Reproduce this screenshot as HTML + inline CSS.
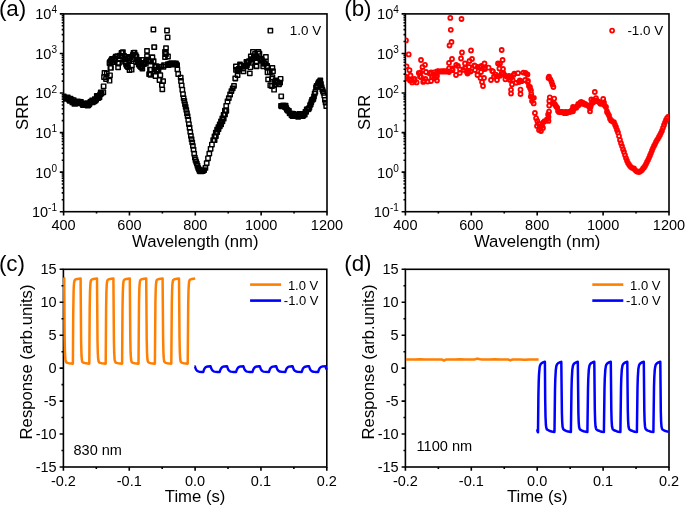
<!DOCTYPE html><html><head><meta charset="utf-8"><style>html,body{margin:0;padding:0;background:#fff;width:685px;height:505px;overflow:hidden}</style></head><body><svg width="685" height="505" viewBox="0 0 685 505" style="position:absolute;left:0;top:0;will-change:transform" font-family='"Liberation Sans", sans-serif' fill="#000"><rect width="685" height="505" fill="#fff"/><rect x="63.6" y="13.9" width="263.40" height="197.80" fill="none" stroke="#000" stroke-width="1.6" stroke-linecap="square"/><rect x="405.4" y="13.9" width="263.60" height="197.80" fill="none" stroke="#000" stroke-width="1.6" stroke-linecap="square"/><rect x="63.4" y="269.3" width="263.40" height="197.70" fill="none" stroke="#000" stroke-width="1.6" stroke-linecap="square"/><rect x="405.4" y="269.3" width="263.60" height="197.70" fill="none" stroke="#000" stroke-width="1.6" stroke-linecap="square"/><defs><clipPath id="c0"><rect x="63.6" y="13.9" width="263.40" height="197.80"/></clipPath><clipPath id="c1"><rect x="405.4" y="13.9" width="263.60" height="197.80"/></clipPath><clipPath id="c2"><rect x="63.4" y="269.3" width="263.40" height="197.70"/></clipPath><clipPath id="c3"><rect x="405.4" y="269.3" width="263.60" height="197.70"/></clipPath></defs><g clip-path="url(#c0)"><path d="M61.63 94.25h4.35v4.35h-4.35zM62.29 94.96h4.35v4.35h-4.35zM62.95 96.58h4.35v4.35h-4.35zM63.61 95.25h4.35v4.35h-4.35zM64.27 95.71h4.35v4.35h-4.35zM64.93 96.32h4.35v4.35h-4.35zM65.59 95.18h4.35v4.35h-4.35zM66.25 96.75h4.35v4.35h-4.35zM66.91 97.60h4.35v4.35h-4.35zM67.57 98.62h4.35v4.35h-4.35zM68.23 96.53h4.35v4.35h-4.35zM68.89 97.71h4.35v4.35h-4.35zM69.55 97.37h4.35v4.35h-4.35zM70.21 100.28h4.35v4.35h-4.35zM70.87 100.10h4.35v4.35h-4.35zM71.53 97.99h4.35v4.35h-4.35zM72.19 101.62h4.35v4.35h-4.35zM72.85 101.79h4.35v4.35h-4.35zM73.51 100.91h4.35v4.35h-4.35zM74.17 101.01h4.35v4.35h-4.35zM74.83 99.60h4.35v4.35h-4.35zM75.49 99.18h4.35v4.35h-4.35zM76.15 101.12h4.35v4.35h-4.35zM76.81 99.53h4.35v4.35h-4.35zM77.47 100.10h4.35v4.35h-4.35zM78.13 100.38h4.35v4.35h-4.35zM78.79 99.71h4.35v4.35h-4.35zM79.45 101.37h4.35v4.35h-4.35zM80.11 101.38h4.35v4.35h-4.35zM80.77 102.92h4.35v4.35h-4.35zM81.43 101.85h4.35v4.35h-4.35zM82.09 102.38h4.35v4.35h-4.35zM82.75 101.97h4.35v4.35h-4.35zM83.41 102.65h4.35v4.35h-4.35zM84.07 101.89h4.35v4.35h-4.35zM84.73 101.02h4.35v4.35h-4.35zM85.39 103.38h4.35v4.35h-4.35zM86.05 103.14h4.35v4.35h-4.35zM86.71 102.35h4.35v4.35h-4.35zM87.37 101.64h4.35v4.35h-4.35zM88.03 99.99h4.35v4.35h-4.35zM88.69 99.46h4.35v4.35h-4.35zM89.35 99.44h4.35v4.35h-4.35zM90.01 98.32h4.35v4.35h-4.35zM90.67 100.21h4.35v4.35h-4.35zM91.33 98.28h4.35v4.35h-4.35zM91.99 99.28h4.35v4.35h-4.35zM92.65 97.01h4.35v4.35h-4.35zM93.31 98.46h4.35v4.35h-4.35zM93.97 97.46h4.35v4.35h-4.35zM94.63 93.83h4.35v4.35h-4.35zM95.29 94.01h4.35v4.35h-4.35zM95.95 95.95h4.35v4.35h-4.35zM96.61 93.79h4.35v4.35h-4.35zM97.27 95.05h4.35v4.35h-4.35zM97.93 92.33h4.35v4.35h-4.35zM98.59 90.28h4.35v4.35h-4.35zM99.25 91.40h4.35v4.35h-4.35zM101.13 90.13h4.35v4.35h-4.35zM101.43 84.13h4.35v4.35h-4.35zM102.33 70.73h4.35v4.35h-4.35zM104.63 71.33h4.35v4.35h-4.35zM101.83 74.83h4.35v4.35h-4.35zM103.83 76.83h4.35v4.35h-4.35zM107.83 73.13h4.35v4.35h-4.35zM107.33 78.53h4.35v4.35h-4.35zM108.23 65.73h4.35v4.35h-4.35zM108.83 65.63h4.35v4.35h-4.35zM108.83 58.23h4.35v4.35h-4.35zM107.83 59.83h4.35v4.35h-4.35zM109.83 56.83h4.35v4.35h-4.35zM110.83 59.83h4.35v4.35h-4.35zM107.33 60.83h4.35v4.35h-4.35zM113.53 54.43h4.35v4.35h-4.35zM113.23 57.43h4.35v4.35h-4.35zM116.83 60.63h4.35v4.35h-4.35zM115.93 65.13h4.35v4.35h-4.35zM115.83 61.33h4.35v4.35h-4.35zM120.73 49.93h4.35v4.35h-4.35zM119.33 50.83h4.35v4.35h-4.35zM121.93 53.83h4.35v4.35h-4.35zM122.23 56.83h4.35v4.35h-4.35zM122.83 59.73h4.35v4.35h-4.35zM124.53 63.63h4.35v4.35h-4.35zM123.83 61.83h4.35v4.35h-4.35zM126.93 54.73h4.35v4.35h-4.35zM126.93 58.23h4.35v4.35h-4.35zM127.33 67.83h4.35v4.35h-4.35zM125.83 64.83h4.35v4.35h-4.35zM130.03 56.83h4.35v4.35h-4.35zM129.73 63.33h4.35v4.35h-4.35zM129.43 67.53h4.35v4.35h-4.35zM132.33 50.53h4.35v4.35h-4.35zM131.33 50.83h4.35v4.35h-4.35zM133.53 52.93h4.35v4.35h-4.35zM134.33 54.83h4.35v4.35h-4.35zM135.63 58.53h4.35v4.35h-4.35zM136.53 62.43h4.35v4.35h-4.35zM137.83 63.83h4.35v4.35h-4.35zM140.13 66.33h4.35v4.35h-4.35zM138.83 64.83h4.35v4.35h-4.35zM143.63 61.53h4.35v4.35h-4.35zM144.83 54.13h4.35v4.35h-4.35zM144.83 48.73h4.35v4.35h-4.35zM144.23 57.43h4.35v4.35h-4.35zM148.13 59.43h4.35v4.35h-4.35zM150.23 55.03h4.35v4.35h-4.35zM151.93 44.93h4.35v4.35h-4.35zM147.83 67.53h4.35v4.35h-4.35zM146.93 71.93h4.35v4.35h-4.35zM153.13 64.83h4.35v4.35h-4.35zM154.33 67.83h4.35v4.35h-4.35zM150.23 55.23h4.35v4.35h-4.35zM162.83 54.83h4.35v4.35h-4.35zM165.83 54.33h4.35v4.35h-4.35zM148.63 59.53h4.35v4.35h-4.35zM148.83 67.43h4.35v4.35h-4.35zM148.33 72.63h4.35v4.35h-4.35zM152.93 63.93h4.35v4.35h-4.35zM155.73 67.13h4.35v4.35h-4.35zM156.33 68.33h4.35v4.35h-4.35zM153.33 73.83h4.35v4.35h-4.35zM158.13 73.03h4.35v4.35h-4.35zM157.33 77.83h4.35v4.35h-4.35zM160.93 78.93h4.35v4.35h-4.35zM159.73 82.93h4.35v4.35h-4.35zM160.13 87.23h4.35v4.35h-4.35zM161.33 64.73h4.35v4.35h-4.35zM151.23 27.33h4.35v4.35h-4.35zM164.83 28.33h4.35v4.35h-4.35zM165.43 35.23h4.35v4.35h-4.35zM152.13 44.93h4.35v4.35h-4.35zM163.83 46.03h4.35v4.35h-4.35zM162.83 49.83h4.35v4.35h-4.35zM163.83 51.83h4.35v4.35h-4.35zM139.83 57.83h4.35v4.35h-4.35zM141.83 61.83h4.35v4.35h-4.35zM136.83 57.83h4.35v4.35h-4.35zM133.83 59.83h4.35v4.35h-4.35zM109.83 59.87h4.35v4.35h-4.35zM112.43 56.26h4.35v4.35h-4.35zM115.03 53.99h4.35v4.35h-4.35zM117.63 53.43h4.35v4.35h-4.35zM120.23 54.56h4.35v4.35h-4.35zM122.83 56.10h4.35v4.35h-4.35zM125.43 56.35h4.35v4.35h-4.35zM128.03 55.24h4.35v4.35h-4.35zM130.63 52.63h4.35v4.35h-4.35zM133.23 53.61h4.35v4.35h-4.35zM135.83 59.72h4.35v4.35h-4.35zM138.43 60.66h4.35v4.35h-4.35zM141.03 60.94h4.35v4.35h-4.35zM143.63 59.74h4.35v4.35h-4.35zM146.23 58.10h4.35v4.35h-4.35zM148.83 58.86h4.35v4.35h-4.35zM151.43 58.86h4.35v4.35h-4.35zM154.03 63.86h4.35v4.35h-4.35zM156.63 64.41h4.35v4.35h-4.35zM159.23 64.46h4.35v4.35h-4.35zM161.83 62.97h4.35v4.35h-4.35zM165.83 61.96h4.35v4.35h-4.35zM166.49 62.92h4.35v4.35h-4.35zM167.15 62.49h4.35v4.35h-4.35zM167.81 61.52h4.35v4.35h-4.35zM168.47 62.29h4.35v4.35h-4.35zM169.13 61.04h4.35v4.35h-4.35zM169.79 61.17h4.35v4.35h-4.35zM170.45 61.96h4.35v4.35h-4.35zM171.11 61.68h4.35v4.35h-4.35zM171.77 60.88h4.35v4.35h-4.35zM172.43 62.37h4.35v4.35h-4.35zM173.09 61.20h4.35v4.35h-4.35zM173.75 61.34h4.35v4.35h-4.35zM174.41 62.22h4.35v4.35h-4.35zM174.93 62.93h4.35v4.35h-4.35zM175.23 67.13h4.35v4.35h-4.35zM176.03 71.83h4.35v4.35h-4.35zM178.53 75.43h4.35v4.35h-4.35zM178.83 78.83h4.35v4.35h-4.35zM179.49 83.26h4.35v4.35h-4.35zM180.15 87.57h4.35v4.35h-4.35zM180.81 92.03h4.35v4.35h-4.35zM181.47 96.01h4.35v4.35h-4.35zM182.13 98.76h4.35v4.35h-4.35zM182.79 101.94h4.35v4.35h-4.35zM183.45 104.76h4.35v4.35h-4.35zM184.11 107.77h4.35v4.35h-4.35zM184.77 111.04h4.35v4.35h-4.35zM185.43 114.02h4.35v4.35h-4.35zM186.09 117.57h4.35v4.35h-4.35zM186.75 121.87h4.35v4.35h-4.35zM187.41 125.57h4.35v4.35h-4.35zM188.07 129.64h4.35v4.35h-4.35zM188.73 133.61h4.35v4.35h-4.35zM189.39 137.07h4.35v4.35h-4.35zM190.05 140.25h4.35v4.35h-4.35zM190.71 143.70h4.35v4.35h-4.35zM191.37 147.50h4.35v4.35h-4.35zM192.03 151.58h4.35v4.35h-4.35zM192.69 155.39h4.35v4.35h-4.35zM193.35 157.79h4.35v4.35h-4.35zM194.01 159.62h4.35v4.35h-4.35zM194.67 161.49h4.35v4.35h-4.35zM195.33 163.58h4.35v4.35h-4.35zM195.99 165.70h4.35v4.35h-4.35zM196.65 166.97h4.35v4.35h-4.35zM197.31 168.57h4.35v4.35h-4.35zM197.97 169.18h4.35v4.35h-4.35zM199.33 169.25h4.35v4.35h-4.35zM200.63 168.81h4.35v4.35h-4.35zM201.93 167.99h4.35v4.35h-4.35zM203.23 165.72h4.35v4.35h-4.35zM204.53 160.93h4.35v4.35h-4.35zM205.83 156.12h4.35v4.35h-4.35zM207.13 151.43h4.35v4.35h-4.35zM208.43 146.71h4.35v4.35h-4.35zM209.73 142.39h4.35v4.35h-4.35zM211.03 137.90h4.35v4.35h-4.35zM212.33 134.25h4.35v4.35h-4.35zM213.63 130.51h4.35v4.35h-4.35zM214.93 127.51h4.35v4.35h-4.35zM216.23 125.04h4.35v4.35h-4.35zM217.53 122.16h4.35v4.35h-4.35zM218.83 119.19h4.35v4.35h-4.35zM220.13 116.29h4.35v4.35h-4.35zM221.43 112.81h4.35v4.35h-4.35zM222.73 108.50h4.35v4.35h-4.35zM224.03 103.68h4.35v4.35h-4.35zM225.33 99.29h4.35v4.35h-4.35zM226.63 95.91h4.35v4.35h-4.35zM227.93 92.34h4.35v4.35h-4.35zM229.23 88.97h4.35v4.35h-4.35zM230.53 86.18h4.35v4.35h-4.35zM231.83 83.65h4.35v4.35h-4.35zM233.13 76.34h4.35v4.35h-4.35zM212.43 137.90h4.35v4.35h-4.35zM213.73 133.96h4.35v4.35h-4.35zM215.03 130.02h4.35v4.35h-4.35zM216.33 126.91h4.35v4.35h-4.35zM217.63 124.23h4.35v4.35h-4.35zM218.93 122.10h4.35v4.35h-4.35zM220.23 119.12h4.35v4.35h-4.35zM221.53 116.30h4.35v4.35h-4.35zM222.83 112.29h4.35v4.35h-4.35zM224.13 108.71h4.35v4.35h-4.35zM233.03 76.13h4.35v4.35h-4.35zM235.43 72.93h4.35v4.35h-4.35zM233.73 64.33h4.35v4.35h-4.35zM237.83 62.23h4.35v4.35h-4.35zM237.53 66.43h4.35v4.35h-4.35zM235.43 69.13h4.35v4.35h-4.35zM241.33 66.43h4.35v4.35h-4.35zM241.33 69.13h4.35v4.35h-4.35zM244.43 60.13h4.35v4.35h-4.35zM244.83 62.93h4.35v4.35h-4.35zM247.63 71.23h4.35v4.35h-4.35zM248.23 65.03h4.35v4.35h-4.35zM248.63 60.53h4.35v4.35h-4.35zM248.63 57.03h4.35v4.35h-4.35zM248.63 54.23h4.35v4.35h-4.35zM251.73 53.93h4.35v4.35h-4.35zM250.73 49.73h4.35v4.35h-4.35zM254.13 59.83h4.35v4.35h-4.35zM254.13 63.93h4.35v4.35h-4.35zM256.23 49.73h4.35v4.35h-4.35zM256.93 51.53h4.35v4.35h-4.35zM257.23 51.53h4.35v4.35h-4.35zM254.43 59.23h4.35v4.35h-4.35zM254.43 64.13h4.35v4.35h-4.35zM258.33 56.43h4.35v4.35h-4.35zM263.73 54.83h4.35v4.35h-4.35zM263.73 59.23h4.35v4.35h-4.35zM261.03 64.13h4.35v4.35h-4.35zM264.83 65.23h4.35v4.35h-4.35zM265.33 70.13h4.35v4.35h-4.35zM270.23 65.73h4.35v4.35h-4.35zM270.83 69.03h4.35v4.35h-4.35zM265.93 77.23h4.35v4.35h-4.35zM269.73 76.63h4.35v4.35h-4.35zM278.43 76.63h4.35v4.35h-4.35zM273.53 78.23h4.35v4.35h-4.35zM277.93 80.43h4.35v4.35h-4.35zM268.13 83.13h4.35v4.35h-4.35zM271.93 87.53h4.35v4.35h-4.35zM273.53 82.13h4.35v4.35h-4.35zM276.83 82.13h4.35v4.35h-4.35zM279.03 94.13h4.35v4.35h-4.35zM238.83 63.83h4.35v4.35h-4.35zM242.83 63.83h4.35v4.35h-4.35zM245.83 59.83h4.35v4.35h-4.35zM251.83 55.83h4.35v4.35h-4.35zM252.83 51.83h4.35v4.35h-4.35zM259.83 57.83h4.35v4.35h-4.35zM261.83 60.83h4.35v4.35h-4.35zM274.83 79.83h4.35v4.35h-4.35zM269.83 83.83h4.35v4.35h-4.35zM233.83 67.78h4.35v4.35h-4.35zM236.43 66.79h4.35v4.35h-4.35zM239.03 63.82h4.35v4.35h-4.35zM241.63 64.13h4.35v4.35h-4.35zM244.23 59.62h4.35v4.35h-4.35zM246.83 58.97h4.35v4.35h-4.35zM249.43 56.94h4.35v4.35h-4.35zM252.03 55.10h4.35v4.35h-4.35zM254.63 55.47h4.35v4.35h-4.35zM257.23 56.24h4.35v4.35h-4.35zM259.83 58.71h4.35v4.35h-4.35zM262.43 61.68h4.35v4.35h-4.35zM265.03 63.79h4.35v4.35h-4.35zM267.63 69.99h4.35v4.35h-4.35zM270.23 75.03h4.35v4.35h-4.35zM272.83 79.28h4.35v4.35h-4.35zM275.43 80.38h4.35v4.35h-4.35zM278.83 103.76h4.35v4.35h-4.35zM279.49 104.21h4.35v4.35h-4.35zM280.15 103.50h4.35v4.35h-4.35zM280.81 103.89h4.35v4.35h-4.35zM281.47 103.33h4.35v4.35h-4.35zM282.13 104.29h4.35v4.35h-4.35zM282.79 104.82h4.35v4.35h-4.35zM283.45 103.57h4.35v4.35h-4.35zM284.11 105.80h4.35v4.35h-4.35zM284.77 107.37h4.35v4.35h-4.35zM285.43 108.05h4.35v4.35h-4.35zM286.09 108.66h4.35v4.35h-4.35zM286.75 108.67h4.35v4.35h-4.35zM287.41 110.88h4.35v4.35h-4.35zM288.07 111.29h4.35v4.35h-4.35zM288.73 111.39h4.35v4.35h-4.35zM289.39 113.21h4.35v4.35h-4.35zM290.05 111.35h4.35v4.35h-4.35zM290.71 114.03h4.35v4.35h-4.35zM291.37 111.83h4.35v4.35h-4.35zM292.03 113.65h4.35v4.35h-4.35zM292.69 113.27h4.35v4.35h-4.35zM293.35 112.47h4.35v4.35h-4.35zM294.01 113.96h4.35v4.35h-4.35zM294.67 113.32h4.35v4.35h-4.35zM295.33 113.70h4.35v4.35h-4.35zM295.99 114.68h4.35v4.35h-4.35zM296.65 112.55h4.35v4.35h-4.35zM297.31 111.77h4.35v4.35h-4.35zM297.97 112.66h4.35v4.35h-4.35zM298.63 113.70h4.35v4.35h-4.35zM299.29 112.01h4.35v4.35h-4.35zM299.95 111.74h4.35v4.35h-4.35zM300.61 113.93h4.35v4.35h-4.35zM301.27 112.98h4.35v4.35h-4.35zM301.93 111.99h4.35v4.35h-4.35zM302.59 112.44h4.35v4.35h-4.35zM303.25 109.65h4.35v4.35h-4.35zM303.91 109.74h4.35v4.35h-4.35zM304.57 107.26h4.35v4.35h-4.35zM305.23 107.01h4.35v4.35h-4.35zM305.89 107.22h4.35v4.35h-4.35zM306.55 106.58h4.35v4.35h-4.35zM307.21 105.48h4.35v4.35h-4.35zM307.87 102.87h4.35v4.35h-4.35zM308.53 102.08h4.35v4.35h-4.35zM309.19 99.80h4.35v4.35h-4.35zM309.85 97.79h4.35v4.35h-4.35zM310.51 97.51h4.35v4.35h-4.35zM311.17 96.66h4.35v4.35h-4.35zM311.83 94.28h4.35v4.35h-4.35zM312.49 91.42h4.35v4.35h-4.35zM313.15 89.76h4.35v4.35h-4.35zM313.81 85.19h4.35v4.35h-4.35zM314.47 83.64h4.35v4.35h-4.35zM315.13 83.37h4.35v4.35h-4.35zM315.79 81.65h4.35v4.35h-4.35zM316.45 80.28h4.35v4.35h-4.35zM317.11 79.76h4.35v4.35h-4.35zM317.77 79.27h4.35v4.35h-4.35zM318.13 78.23h4.35v4.35h-4.35zM318.79 81.83h4.35v4.35h-4.35zM319.45 84.90h4.35v4.35h-4.35zM320.11 87.26h4.35v4.35h-4.35zM320.77 88.92h4.35v4.35h-4.35zM321.43 90.67h4.35v4.35h-4.35zM322.09 93.36h4.35v4.35h-4.35zM322.75 97.62h4.35v4.35h-4.35zM323.41 100.50h4.35v4.35h-4.35zM324.07 103.85h4.35v4.35h-4.35z" fill="none" stroke="#000" stroke-width="1.45" stroke-linejoin="round"/></g><g clip-path="url(#c1)"><path d="M403.6 76.7a2 2 0 1 0 4 0a2 2 0 1 0 -4 0M405.8 78.9a2 2 0 1 0 4 0a2 2 0 1 0 -4 0M408.0 80.5a2 2 0 1 0 4 0a2 2 0 1 0 -4 0M410.2 82.4a2 2 0 1 0 4 0a2 2 0 1 0 -4 0M412.4 80.8a2 2 0 1 0 4 0a2 2 0 1 0 -4 0M414.6 82.4a2 2 0 1 0 4 0a2 2 0 1 0 -4 0M416.8 73.0a2 2 0 1 0 4 0a2 2 0 1 0 -4 0M419.0 77.2a2 2 0 1 0 4 0a2 2 0 1 0 -4 0M421.2 81.9a2 2 0 1 0 4 0a2 2 0 1 0 -4 0M423.4 79.0a2 2 0 1 0 4 0a2 2 0 1 0 -4 0M425.6 81.5a2 2 0 1 0 4 0a2 2 0 1 0 -4 0M427.8 73.6a2 2 0 1 0 4 0a2 2 0 1 0 -4 0M430.0 77.0a2 2 0 1 0 4 0a2 2 0 1 0 -4 0M432.2 74.7a2 2 0 1 0 4 0a2 2 0 1 0 -4 0M434.4 77.5a2 2 0 1 0 4 0a2 2 0 1 0 -4 0M404.0 40.4a2 2 0 1 0 4 0a2 2 0 1 0 -4 0M406.7 54.4a2 2 0 1 0 4 0a2 2 0 1 0 -4 0M404.5 66.3a2 2 0 1 0 4 0a2 2 0 1 0 -4 0M407.5 70.2a2 2 0 1 0 4 0a2 2 0 1 0 -4 0M404.5 77.0a2 2 0 1 0 4 0a2 2 0 1 0 -4 0M419.0 60.0a2 2 0 1 0 4 0a2 2 0 1 0 -4 0M423.0 64.8a2 2 0 1 0 4 0a2 2 0 1 0 -4 0M420.5 67.0a2 2 0 1 0 4 0a2 2 0 1 0 -4 0M408.5 75.5a2 2 0 1 0 4 0a2 2 0 1 0 -4 0M409.5 80.0a2 2 0 1 0 4 0a2 2 0 1 0 -4 0M412.5 79.0a2 2 0 1 0 4 0a2 2 0 1 0 -4 0M418.5 72.5a2 2 0 1 0 4 0a2 2 0 1 0 -4 0M418.0 76.5a2 2 0 1 0 4 0a2 2 0 1 0 -4 0M422.0 81.0a2 2 0 1 0 4 0a2 2 0 1 0 -4 0M424.0 72.0a2 2 0 1 0 4 0a2 2 0 1 0 -4 0M429.0 72.5a2 2 0 1 0 4 0a2 2 0 1 0 -4 0M432.0 72.5a2 2 0 1 0 4 0a2 2 0 1 0 -4 0M429.0 81.0a2 2 0 1 0 4 0a2 2 0 1 0 -4 0M432.0 78.0a2 2 0 1 0 4 0a2 2 0 1 0 -4 0M435.0 76.0a2 2 0 1 0 4 0a2 2 0 1 0 -4 0M435.0 80.5a2 2 0 1 0 4 0a2 2 0 1 0 -4 0M435.0 71.4a2 2 0 1 0 4 0a2 2 0 1 0 -4 0M435.7 71.1a2 2 0 1 0 4 0a2 2 0 1 0 -4 0M436.3 71.2a2 2 0 1 0 4 0a2 2 0 1 0 -4 0M437.0 71.3a2 2 0 1 0 4 0a2 2 0 1 0 -4 0M437.6 71.6a2 2 0 1 0 4 0a2 2 0 1 0 -4 0M438.3 71.6a2 2 0 1 0 4 0a2 2 0 1 0 -4 0M439.0 71.2a2 2 0 1 0 4 0a2 2 0 1 0 -4 0M439.6 71.6a2 2 0 1 0 4 0a2 2 0 1 0 -4 0M440.3 71.2a2 2 0 1 0 4 0a2 2 0 1 0 -4 0M440.9 71.5a2 2 0 1 0 4 0a2 2 0 1 0 -4 0M441.6 71.2a2 2 0 1 0 4 0a2 2 0 1 0 -4 0M442.3 71.1a2 2 0 1 0 4 0a2 2 0 1 0 -4 0M442.9 71.6a2 2 0 1 0 4 0a2 2 0 1 0 -4 0M443.6 71.2a2 2 0 1 0 4 0a2 2 0 1 0 -4 0M444.2 71.2a2 2 0 1 0 4 0a2 2 0 1 0 -4 0M444.9 71.7a2 2 0 1 0 4 0a2 2 0 1 0 -4 0M445.6 71.6a2 2 0 1 0 4 0a2 2 0 1 0 -4 0M446.2 71.3a2 2 0 1 0 4 0a2 2 0 1 0 -4 0M446.9 71.7a2 2 0 1 0 4 0a2 2 0 1 0 -4 0M447.0 68.4a2 2 0 1 0 4 0a2 2 0 1 0 -4 0M450.6 70.0a2 2 0 1 0 4 0a2 2 0 1 0 -4 0M454.2 64.8a2 2 0 1 0 4 0a2 2 0 1 0 -4 0M457.8 72.9a2 2 0 1 0 4 0a2 2 0 1 0 -4 0M461.4 69.8a2 2 0 1 0 4 0a2 2 0 1 0 -4 0M465.0 72.4a2 2 0 1 0 4 0a2 2 0 1 0 -4 0M468.6 71.5a2 2 0 1 0 4 0a2 2 0 1 0 -4 0M472.2 65.6a2 2 0 1 0 4 0a2 2 0 1 0 -4 0M475.8 67.0a2 2 0 1 0 4 0a2 2 0 1 0 -4 0M479.4 65.9a2 2 0 1 0 4 0a2 2 0 1 0 -4 0M483.0 67.1a2 2 0 1 0 4 0a2 2 0 1 0 -4 0M486.6 67.7a2 2 0 1 0 4 0a2 2 0 1 0 -4 0M490.2 71.0a2 2 0 1 0 4 0a2 2 0 1 0 -4 0M493.8 74.7a2 2 0 1 0 4 0a2 2 0 1 0 -4 0M497.4 68.5a2 2 0 1 0 4 0a2 2 0 1 0 -4 0M448.3 17.9a2 2 0 1 0 4 0a2 2 0 1 0 -4 0M459.5 19.0a2 2 0 1 0 4 0a2 2 0 1 0 -4 0M448.8 29.8a2 2 0 1 0 4 0a2 2 0 1 0 -4 0M449.5 42.0a2 2 0 1 0 4 0a2 2 0 1 0 -4 0M447.5 45.5a2 2 0 1 0 4 0a2 2 0 1 0 -4 0M450.0 59.0a2 2 0 1 0 4 0a2 2 0 1 0 -4 0M447.0 63.0a2 2 0 1 0 4 0a2 2 0 1 0 -4 0M460.0 52.5a2 2 0 1 0 4 0a2 2 0 1 0 -4 0M469.0 50.5a2 2 0 1 0 4 0a2 2 0 1 0 -4 0M459.0 58.5a2 2 0 1 0 4 0a2 2 0 1 0 -4 0M470.0 59.0a2 2 0 1 0 4 0a2 2 0 1 0 -4 0M467.5 61.0a2 2 0 1 0 4 0a2 2 0 1 0 -4 0M463.0 63.5a2 2 0 1 0 4 0a2 2 0 1 0 -4 0M482.5 63.5a2 2 0 1 0 4 0a2 2 0 1 0 -4 0M456.0 66.0a2 2 0 1 0 4 0a2 2 0 1 0 -4 0M467.0 67.0a2 2 0 1 0 4 0a2 2 0 1 0 -4 0M472.5 65.5a2 2 0 1 0 4 0a2 2 0 1 0 -4 0M478.0 67.0a2 2 0 1 0 4 0a2 2 0 1 0 -4 0M450.5 68.5a2 2 0 1 0 4 0a2 2 0 1 0 -4 0M458.0 69.5a2 2 0 1 0 4 0a2 2 0 1 0 -4 0M463.0 68.0a2 2 0 1 0 4 0a2 2 0 1 0 -4 0M466.5 71.5a2 2 0 1 0 4 0a2 2 0 1 0 -4 0M473.0 70.0a2 2 0 1 0 4 0a2 2 0 1 0 -4 0M479.0 72.0a2 2 0 1 0 4 0a2 2 0 1 0 -4 0M483.0 69.0a2 2 0 1 0 4 0a2 2 0 1 0 -4 0M447.0 72.0a2 2 0 1 0 4 0a2 2 0 1 0 -4 0M454.0 75.0a2 2 0 1 0 4 0a2 2 0 1 0 -4 0M465.5 73.5a2 2 0 1 0 4 0a2 2 0 1 0 -4 0M475.5 75.0a2 2 0 1 0 4 0a2 2 0 1 0 -4 0M482.0 78.0a2 2 0 1 0 4 0a2 2 0 1 0 -4 0M480.0 82.0a2 2 0 1 0 4 0a2 2 0 1 0 -4 0M481.0 86.0a2 2 0 1 0 4 0a2 2 0 1 0 -4 0M491.0 71.5a2 2 0 1 0 4 0a2 2 0 1 0 -4 0M489.0 80.0a2 2 0 1 0 4 0a2 2 0 1 0 -4 0M492.0 76.5a2 2 0 1 0 4 0a2 2 0 1 0 -4 0M495.0 80.0a2 2 0 1 0 4 0a2 2 0 1 0 -4 0M496.0 63.5a2 2 0 1 0 4 0a2 2 0 1 0 -4 0M473.0 65.8a2 2 0 1 0 4 0a2 2 0 1 0 -4 0M478.5 78.0a2 2 0 1 0 4 0a2 2 0 1 0 -4 0M498.0 75.8a2 2 0 1 0 4 0a2 2 0 1 0 -4 0M499.8 73.1a2 2 0 1 0 4 0a2 2 0 1 0 -4 0M501.6 73.5a2 2 0 1 0 4 0a2 2 0 1 0 -4 0M503.4 79.3a2 2 0 1 0 4 0a2 2 0 1 0 -4 0M505.2 76.7a2 2 0 1 0 4 0a2 2 0 1 0 -4 0M507.0 75.8a2 2 0 1 0 4 0a2 2 0 1 0 -4 0M508.8 77.8a2 2 0 1 0 4 0a2 2 0 1 0 -4 0M510.6 80.0a2 2 0 1 0 4 0a2 2 0 1 0 -4 0M512.4 73.6a2 2 0 1 0 4 0a2 2 0 1 0 -4 0M514.2 82.8a2 2 0 1 0 4 0a2 2 0 1 0 -4 0M516.0 73.2a2 2 0 1 0 4 0a2 2 0 1 0 -4 0M517.8 80.5a2 2 0 1 0 4 0a2 2 0 1 0 -4 0M519.6 81.2a2 2 0 1 0 4 0a2 2 0 1 0 -4 0M521.4 72.6a2 2 0 1 0 4 0a2 2 0 1 0 -4 0M523.2 80.0a2 2 0 1 0 4 0a2 2 0 1 0 -4 0M499.7 50.0a2 2 0 1 0 4 0a2 2 0 1 0 -4 0M500.6 60.0a2 2 0 1 0 4 0a2 2 0 1 0 -4 0M498.0 63.5a2 2 0 1 0 4 0a2 2 0 1 0 -4 0M501.0 69.0a2 2 0 1 0 4 0a2 2 0 1 0 -4 0M496.0 76.0a2 2 0 1 0 4 0a2 2 0 1 0 -4 0M503.0 75.5a2 2 0 1 0 4 0a2 2 0 1 0 -4 0M508.0 80.0a2 2 0 1 0 4 0a2 2 0 1 0 -4 0M511.5 75.0a2 2 0 1 0 4 0a2 2 0 1 0 -4 0M510.0 84.5a2 2 0 1 0 4 0a2 2 0 1 0 -4 0M509.0 89.8a2 2 0 1 0 4 0a2 2 0 1 0 -4 0M509.0 93.5a2 2 0 1 0 4 0a2 2 0 1 0 -4 0M517.0 82.0a2 2 0 1 0 4 0a2 2 0 1 0 -4 0M518.5 89.7a2 2 0 1 0 4 0a2 2 0 1 0 -4 0M518.5 94.0a2 2 0 1 0 4 0a2 2 0 1 0 -4 0M523.5 73.0a2 2 0 1 0 4 0a2 2 0 1 0 -4 0M525.5 74.5a2 2 0 1 0 4 0a2 2 0 1 0 -4 0M526.0 81.0a2 2 0 1 0 4 0a2 2 0 1 0 -4 0M524.5 73.8a2 2 0 1 0 4 0a2 2 0 1 0 -4 0M525.7 82.1a2 2 0 1 0 4 0a2 2 0 1 0 -4 0M526.9 86.1a2 2 0 1 0 4 0a2 2 0 1 0 -4 0M528.1 88.3a2 2 0 1 0 4 0a2 2 0 1 0 -4 0M529.3 93.9a2 2 0 1 0 4 0a2 2 0 1 0 -4 0M530.5 98.4a2 2 0 1 0 4 0a2 2 0 1 0 -4 0M531.7 103.4a2 2 0 1 0 4 0a2 2 0 1 0 -4 0M532.9 113.0a2 2 0 1 0 4 0a2 2 0 1 0 -4 0M534.1 118.2a2 2 0 1 0 4 0a2 2 0 1 0 -4 0M535.3 120.9a2 2 0 1 0 4 0a2 2 0 1 0 -4 0M536.5 123.6a2 2 0 1 0 4 0a2 2 0 1 0 -4 0M537.7 127.2a2 2 0 1 0 4 0a2 2 0 1 0 -4 0M538.9 127.0a2 2 0 1 0 4 0a2 2 0 1 0 -4 0M540.1 125.6a2 2 0 1 0 4 0a2 2 0 1 0 -4 0M541.3 122.3a2 2 0 1 0 4 0a2 2 0 1 0 -4 0M542.5 121.2a2 2 0 1 0 4 0a2 2 0 1 0 -4 0M543.7 120.9a2 2 0 1 0 4 0a2 2 0 1 0 -4 0M544.9 119.3a2 2 0 1 0 4 0a2 2 0 1 0 -4 0M546.1 114.4a2 2 0 1 0 4 0a2 2 0 1 0 -4 0M547.3 101.0a2 2 0 1 0 4 0a2 2 0 1 0 -4 0M528.8 96.6a2 2 0 1 0 4 0a2 2 0 1 0 -4 0M531.9 97.8a2 2 0 1 0 4 0a2 2 0 1 0 -4 0M530.0 100.9a2 2 0 1 0 4 0a2 2 0 1 0 -4 0M528.0 87.0a2 2 0 1 0 4 0a2 2 0 1 0 -4 0M529.0 90.5a2 2 0 1 0 4 0a2 2 0 1 0 -4 0M546.5 78.0a2 2 0 1 0 4 0a2 2 0 1 0 -4 0M535.0 126.0a2 2 0 1 0 4 0a2 2 0 1 0 -4 0M537.0 130.0a2 2 0 1 0 4 0a2 2 0 1 0 -4 0M539.0 131.0a2 2 0 1 0 4 0a2 2 0 1 0 -4 0M541.0 128.0a2 2 0 1 0 4 0a2 2 0 1 0 -4 0M547.0 76.7a2 2 0 1 0 4 0a2 2 0 1 0 -4 0M548.3 79.3a2 2 0 1 0 4 0a2 2 0 1 0 -4 0M549.6 81.9a2 2 0 1 0 4 0a2 2 0 1 0 -4 0M550.4 84.4a2 2 0 1 0 4 0a2 2 0 1 0 -4 0M551.4 87.0a2 2 0 1 0 4 0a2 2 0 1 0 -4 0M552.2 98.6a2 2 0 1 0 4 0a2 2 0 1 0 -4 0M547.8 97.3a2 2 0 1 0 4 0a2 2 0 1 0 -4 0M547.2 105.6a2 2 0 1 0 4 0a2 2 0 1 0 -4 0M547.0 111.7a2 2 0 1 0 4 0a2 2 0 1 0 -4 0M546.5 117.0a2 2 0 1 0 4 0a2 2 0 1 0 -4 0M546.5 120.9a2 2 0 1 0 4 0a2 2 0 1 0 -4 0M552.0 103.4a2 2 0 1 0 4 0a2 2 0 1 0 -4 0M552.8 104.1a2 2 0 1 0 4 0a2 2 0 1 0 -4 0M553.6 105.4a2 2 0 1 0 4 0a2 2 0 1 0 -4 0M554.4 106.7a2 2 0 1 0 4 0a2 2 0 1 0 -4 0M555.2 107.6a2 2 0 1 0 4 0a2 2 0 1 0 -4 0M556.0 111.0a2 2 0 1 0 4 0a2 2 0 1 0 -4 0M556.8 112.1a2 2 0 1 0 4 0a2 2 0 1 0 -4 0M557.6 111.9a2 2 0 1 0 4 0a2 2 0 1 0 -4 0M558.4 112.0a2 2 0 1 0 4 0a2 2 0 1 0 -4 0M559.2 111.9a2 2 0 1 0 4 0a2 2 0 1 0 -4 0M560.0 111.9a2 2 0 1 0 4 0a2 2 0 1 0 -4 0M560.8 112.0a2 2 0 1 0 4 0a2 2 0 1 0 -4 0M561.6 112.8a2 2 0 1 0 4 0a2 2 0 1 0 -4 0M562.4 113.2a2 2 0 1 0 4 0a2 2 0 1 0 -4 0M563.2 112.0a2 2 0 1 0 4 0a2 2 0 1 0 -4 0M564.0 111.9a2 2 0 1 0 4 0a2 2 0 1 0 -4 0M564.8 113.1a2 2 0 1 0 4 0a2 2 0 1 0 -4 0M565.6 112.3a2 2 0 1 0 4 0a2 2 0 1 0 -4 0M566.4 112.1a2 2 0 1 0 4 0a2 2 0 1 0 -4 0M567.2 111.7a2 2 0 1 0 4 0a2 2 0 1 0 -4 0M568.0 112.1a2 2 0 1 0 4 0a2 2 0 1 0 -4 0M568.8 111.7a2 2 0 1 0 4 0a2 2 0 1 0 -4 0M569.6 110.3a2 2 0 1 0 4 0a2 2 0 1 0 -4 0M570.4 109.5a2 2 0 1 0 4 0a2 2 0 1 0 -4 0M571.2 108.3a2 2 0 1 0 4 0a2 2 0 1 0 -4 0M572.0 109.1a2 2 0 1 0 4 0a2 2 0 1 0 -4 0M572.8 107.4a2 2 0 1 0 4 0a2 2 0 1 0 -4 0M573.6 107.7a2 2 0 1 0 4 0a2 2 0 1 0 -4 0M574.4 107.7a2 2 0 1 0 4 0a2 2 0 1 0 -4 0M575.2 106.1a2 2 0 1 0 4 0a2 2 0 1 0 -4 0M576.0 105.8a2 2 0 1 0 4 0a2 2 0 1 0 -4 0M576.8 105.0a2 2 0 1 0 4 0a2 2 0 1 0 -4 0M577.6 103.4a2 2 0 1 0 4 0a2 2 0 1 0 -4 0M578.4 102.5a2 2 0 1 0 4 0a2 2 0 1 0 -4 0M579.2 101.9a2 2 0 1 0 4 0a2 2 0 1 0 -4 0M580.0 102.8a2 2 0 1 0 4 0a2 2 0 1 0 -4 0M580.8 102.7a2 2 0 1 0 4 0a2 2 0 1 0 -4 0M581.6 104.1a2 2 0 1 0 4 0a2 2 0 1 0 -4 0M582.4 103.6a2 2 0 1 0 4 0a2 2 0 1 0 -4 0M583.2 104.0a2 2 0 1 0 4 0a2 2 0 1 0 -4 0M584.0 104.9a2 2 0 1 0 4 0a2 2 0 1 0 -4 0M584.8 104.9a2 2 0 1 0 4 0a2 2 0 1 0 -4 0M585.6 105.3a2 2 0 1 0 4 0a2 2 0 1 0 -4 0M586.4 105.7a2 2 0 1 0 4 0a2 2 0 1 0 -4 0M587.2 106.9a2 2 0 1 0 4 0a2 2 0 1 0 -4 0M588.0 108.3a2 2 0 1 0 4 0a2 2 0 1 0 -4 0M588.8 106.1a2 2 0 1 0 4 0a2 2 0 1 0 -4 0M589.6 104.0a2 2 0 1 0 4 0a2 2 0 1 0 -4 0M590.4 102.3a2 2 0 1 0 4 0a2 2 0 1 0 -4 0M591.2 100.4a2 2 0 1 0 4 0a2 2 0 1 0 -4 0M592.0 100.5a2 2 0 1 0 4 0a2 2 0 1 0 -4 0M592.8 101.1a2 2 0 1 0 4 0a2 2 0 1 0 -4 0M593.6 100.8a2 2 0 1 0 4 0a2 2 0 1 0 -4 0M594.4 100.5a2 2 0 1 0 4 0a2 2 0 1 0 -4 0M595.2 101.0a2 2 0 1 0 4 0a2 2 0 1 0 -4 0M596.0 101.5a2 2 0 1 0 4 0a2 2 0 1 0 -4 0M596.8 101.9a2 2 0 1 0 4 0a2 2 0 1 0 -4 0M597.6 102.8a2 2 0 1 0 4 0a2 2 0 1 0 -4 0M598.4 103.8a2 2 0 1 0 4 0a2 2 0 1 0 -4 0M599.2 103.8a2 2 0 1 0 4 0a2 2 0 1 0 -4 0M600.0 103.0a2 2 0 1 0 4 0a2 2 0 1 0 -4 0M600.8 103.4a2 2 0 1 0 4 0a2 2 0 1 0 -4 0M601.6 104.2a2 2 0 1 0 4 0a2 2 0 1 0 -4 0M602.4 105.1a2 2 0 1 0 4 0a2 2 0 1 0 -4 0M603.2 106.1a2 2 0 1 0 4 0a2 2 0 1 0 -4 0M604.0 107.3a2 2 0 1 0 4 0a2 2 0 1 0 -4 0M553.0 104.7a2 2 0 1 0 4 0a2 2 0 1 0 -4 0M571.0 106.9a2 2 0 1 0 4 0a2 2 0 1 0 -4 0M571.0 111.3a2 2 0 1 0 4 0a2 2 0 1 0 -4 0M576.2 103.8a2 2 0 1 0 4 0a2 2 0 1 0 -4 0M588.5 106.9a2 2 0 1 0 4 0a2 2 0 1 0 -4 0M588.0 111.3a2 2 0 1 0 4 0a2 2 0 1 0 -4 0M589.3 99.4a2 2 0 1 0 4 0a2 2 0 1 0 -4 0M591.1 102.5a2 2 0 1 0 4 0a2 2 0 1 0 -4 0M592.8 92.0a2 2 0 1 0 4 0a2 2 0 1 0 -4 0M594.0 98.1a2 2 0 1 0 4 0a2 2 0 1 0 -4 0M601.2 99.0a2 2 0 1 0 4 0a2 2 0 1 0 -4 0M602.0 102.5a2 2 0 1 0 4 0a2 2 0 1 0 -4 0M605.0 111.3a2 2 0 1 0 4 0a2 2 0 1 0 -4 0M604.0 106.8a2 2 0 1 0 4 0a2 2 0 1 0 -4 0M605.0 112.1a2 2 0 1 0 4 0a2 2 0 1 0 -4 0M606.0 113.6a2 2 0 1 0 4 0a2 2 0 1 0 -4 0M607.0 115.5a2 2 0 1 0 4 0a2 2 0 1 0 -4 0M608.0 118.7a2 2 0 1 0 4 0a2 2 0 1 0 -4 0M609.0 120.4a2 2 0 1 0 4 0a2 2 0 1 0 -4 0M610.0 120.9a2 2 0 1 0 4 0a2 2 0 1 0 -4 0M611.0 121.8a2 2 0 1 0 4 0a2 2 0 1 0 -4 0M612.0 122.1a2 2 0 1 0 4 0a2 2 0 1 0 -4 0M613.0 124.7a2 2 0 1 0 4 0a2 2 0 1 0 -4 0M614.0 127.0a2 2 0 1 0 4 0a2 2 0 1 0 -4 0M615.0 130.0a2 2 0 1 0 4 0a2 2 0 1 0 -4 0M616.0 132.5a2 2 0 1 0 4 0a2 2 0 1 0 -4 0M617.0 136.1a2 2 0 1 0 4 0a2 2 0 1 0 -4 0M618.0 140.0a2 2 0 1 0 4 0a2 2 0 1 0 -4 0M619.0 143.2a2 2 0 1 0 4 0a2 2 0 1 0 -4 0M620.0 146.1a2 2 0 1 0 4 0a2 2 0 1 0 -4 0M621.0 149.2a2 2 0 1 0 4 0a2 2 0 1 0 -4 0M622.0 151.9a2 2 0 1 0 4 0a2 2 0 1 0 -4 0M623.0 155.1a2 2 0 1 0 4 0a2 2 0 1 0 -4 0M624.0 158.1a2 2 0 1 0 4 0a2 2 0 1 0 -4 0M625.0 160.7a2 2 0 1 0 4 0a2 2 0 1 0 -4 0M626.0 162.9a2 2 0 1 0 4 0a2 2 0 1 0 -4 0M627.0 164.5a2 2 0 1 0 4 0a2 2 0 1 0 -4 0M628.0 165.9a2 2 0 1 0 4 0a2 2 0 1 0 -4 0M629.0 167.1a2 2 0 1 0 4 0a2 2 0 1 0 -4 0M630.0 167.8a2 2 0 1 0 4 0a2 2 0 1 0 -4 0M631.0 168.3a2 2 0 1 0 4 0a2 2 0 1 0 -4 0M632.0 168.5a2 2 0 1 0 4 0a2 2 0 1 0 -4 0M633.0 169.8a2 2 0 1 0 4 0a2 2 0 1 0 -4 0M634.0 170.8a2 2 0 1 0 4 0a2 2 0 1 0 -4 0M635.0 171.5a2 2 0 1 0 4 0a2 2 0 1 0 -4 0M636.0 171.9a2 2 0 1 0 4 0a2 2 0 1 0 -4 0M637.0 172.0a2 2 0 1 0 4 0a2 2 0 1 0 -4 0M638.0 171.4a2 2 0 1 0 4 0a2 2 0 1 0 -4 0M639.0 170.8a2 2 0 1 0 4 0a2 2 0 1 0 -4 0M640.0 170.1a2 2 0 1 0 4 0a2 2 0 1 0 -4 0M641.0 168.5a2 2 0 1 0 4 0a2 2 0 1 0 -4 0M642.0 167.5a2 2 0 1 0 4 0a2 2 0 1 0 -4 0M643.0 166.0a2 2 0 1 0 4 0a2 2 0 1 0 -4 0M644.0 164.1a2 2 0 1 0 4 0a2 2 0 1 0 -4 0M645.0 162.0a2 2 0 1 0 4 0a2 2 0 1 0 -4 0M646.0 160.1a2 2 0 1 0 4 0a2 2 0 1 0 -4 0M647.0 157.8a2 2 0 1 0 4 0a2 2 0 1 0 -4 0M648.0 155.4a2 2 0 1 0 4 0a2 2 0 1 0 -4 0M649.0 153.1a2 2 0 1 0 4 0a2 2 0 1 0 -4 0M650.0 150.4a2 2 0 1 0 4 0a2 2 0 1 0 -4 0M651.0 148.1a2 2 0 1 0 4 0a2 2 0 1 0 -4 0M652.0 146.0a2 2 0 1 0 4 0a2 2 0 1 0 -4 0M653.0 144.1a2 2 0 1 0 4 0a2 2 0 1 0 -4 0M654.0 141.8a2 2 0 1 0 4 0a2 2 0 1 0 -4 0M655.0 140.1a2 2 0 1 0 4 0a2 2 0 1 0 -4 0M656.0 138.6a2 2 0 1 0 4 0a2 2 0 1 0 -4 0M657.0 136.7a2 2 0 1 0 4 0a2 2 0 1 0 -4 0M658.0 135.0a2 2 0 1 0 4 0a2 2 0 1 0 -4 0M659.0 132.8a2 2 0 1 0 4 0a2 2 0 1 0 -4 0M660.0 130.7a2 2 0 1 0 4 0a2 2 0 1 0 -4 0M661.0 127.8a2 2 0 1 0 4 0a2 2 0 1 0 -4 0M662.0 124.9a2 2 0 1 0 4 0a2 2 0 1 0 -4 0M663.0 122.3a2 2 0 1 0 4 0a2 2 0 1 0 -4 0M664.0 119.8a2 2 0 1 0 4 0a2 2 0 1 0 -4 0M665.0 118.2a2 2 0 1 0 4 0a2 2 0 1 0 -4 0M666.0 117.0a2 2 0 1 0 4 0a2 2 0 1 0 -4 0" fill="none" stroke="#ff0000" stroke-width="1.78"/></g><path d="M63.60 277.40 L63.90 277.79 L64.20 277.96 L64.60 335.05 L64.90 350.54 L65.10 355.56 L65.40 359.38 L65.80 361.41 L66.10 362.03 L66.60 362.50 L67.50 362.86 L69.00 363.22 L72.90 363.71 L73.20 315.72 L73.60 291.49 L73.80 286.50 L74.10 282.70 L74.50 280.68 L74.80 280.06 L75.20 279.66 L75.90 279.33 L77.20 278.98 L80.60 278.47 L81.10 341.27 L81.50 355.42 L81.80 359.33 L82.20 361.39 L82.70 362.27 L83.70 362.80 L86.10 363.35 L89.30 363.71 L89.70 307.68 L90.00 291.83 L90.40 283.74 L90.80 281.05 L91.10 280.24 L91.50 279.74 L92.20 279.37 L93.40 279.02 L97.00 278.48 L97.50 340.67 L97.80 352.96 L98.20 359.24 L98.60 361.36 L98.90 362.01 L99.40 362.49 L100.30 362.86 L101.80 363.22 L105.70 363.71 L106.10 308.47 L106.40 292.17 L106.80 283.86 L107.20 281.08 L107.50 280.26 L107.90 279.75 L108.60 279.37 L109.80 279.03 L113.40 278.48 L113.90 340.06 L114.20 352.69 L114.60 359.15 L115.00 361.33 L115.30 362.00 L115.80 362.49 L116.70 362.86 L118.20 363.22 L122.10 363.71 L122.50 309.29 L122.80 292.52 L123.20 283.97 L123.60 281.12 L123.90 280.28 L124.30 279.76 L125.00 279.38 L126.20 279.03 L129.80 278.48 L130.30 339.43 L130.60 352.42 L131.00 359.06 L131.40 361.30 L131.70 361.98 L132.20 362.48 L133.10 362.86 L134.60 363.22 L138.50 363.71 L139.00 302.70 L139.30 289.69 L139.60 284.09 L140.00 281.16 L140.30 280.30 L140.70 279.77 L141.40 279.38 L142.60 279.03 L146.20 278.48 L146.70 338.77 L147.00 352.14 L147.40 358.97 L147.80 361.27 L148.10 361.96 L148.60 362.47 L149.50 362.85 L151.00 363.22 L154.90 363.70 L155.40 303.35 L155.70 289.97 L156.00 284.21 L156.40 281.21 L156.70 280.32 L157.10 279.78 L157.80 279.38 L159.00 279.03 L162.60 278.48 L163.10 338.10 L163.40 351.85 L163.80 358.88 L164.20 361.24 L164.50 361.95 L165.00 362.47 L165.90 362.85 L167.40 363.22 L171.30 363.70 L171.80 304.02 L172.10 290.26 L172.40 284.33 L172.80 281.25 L173.10 280.34 L173.50 279.79 L174.20 279.39 L175.40 279.04 L179.00 278.48 L179.50 337.41 L179.80 351.56 L180.20 358.78 L180.60 361.20 L180.90 361.93 L181.40 362.46 L182.30 362.85 L183.80 363.21 L187.70 363.70 L188.20 304.71 L188.50 290.55 L188.90 283.33 L189.30 280.90 L189.60 280.17 L190.00 279.71 L190.70 279.35 L191.90 279.02 L195.20 278.50" fill="none" stroke="#ff7f00" stroke-width="2.5" stroke-linejoin="round"/>
<path d="M194.60 366.60 L195.00 366.50 L195.50 368.15 L196.00 369.31 L196.60 370.25 L197.40 371.01 L198.20 371.44 L199.10 371.71 L202.10 371.97 L203.30 371.99 L203.80 370.25 L204.40 368.84 L205.00 367.92 L205.80 367.17 L206.60 366.75 L207.60 366.47 L210.60 366.23 L211.10 367.96 L211.60 369.18 L212.20 370.16 L212.80 370.80 L213.60 371.32 L214.50 371.64 L217.50 371.96 L219.70 371.99 L220.30 370.00 L220.90 368.68 L221.60 367.70 L222.40 367.05 L223.20 366.68 L224.10 366.45 L227.00 366.23 L228.00 369.16 L228.60 370.15 L229.20 370.79 L230.00 371.32 L230.90 371.64 L233.70 371.95 L236.10 371.99 L236.70 370.03 L237.30 368.69 L238.00 367.71 L238.80 367.05 L239.60 366.68 L240.50 366.45 L243.40 366.23 L244.40 369.14 L245.00 370.13 L245.60 370.78 L246.30 371.26 L247.20 371.61 L249.80 371.94 L252.50 371.99 L253.10 370.05 L253.70 368.71 L254.40 367.72 L255.30 367.00 L256.90 366.46 L259.50 366.24 L259.80 366.23 L260.80 369.12 L261.40 370.12 L262.00 370.78 L262.70 371.26 L263.50 371.58 L265.90 371.92 L268.90 371.99 L269.90 369.12 L270.50 368.10 L271.10 367.44 L271.90 366.90 L272.80 366.57 L275.60 366.25 L276.20 366.23 L277.20 369.09 L277.80 370.11 L278.40 370.77 L279.00 371.20 L279.80 371.55 L282.00 371.91 L285.30 371.99 L286.30 369.14 L286.90 368.11 L287.50 367.45 L288.20 366.96 L289.10 366.60 L291.60 366.27 L292.60 366.23 L293.60 369.07 L294.20 370.09 L294.80 370.76 L296.10 371.51 L297.90 371.86 L301.70 371.99 L302.70 369.16 L303.20 368.27 L303.80 367.55 L304.40 367.08 L305.20 366.70 L307.40 366.30 L309.00 366.23 L309.90 368.83 L310.80 370.34 L311.90 371.24 L313.50 371.76 L315.20 371.93 L318.10 371.99 L319.00 369.40 L319.90 367.88 L321.10 366.91 L322.80 366.41 L325.40 366.23 L326.20 368.58 L326.80 369.77" fill="none" stroke="#0000ff" stroke-width="2.4" stroke-linejoin="round"/>
<path d="M405.90 359.50 L414.90 359.48 L419.90 359.20 L425.40 359.49 L441.40 359.51 L442.40 359.69 L443.90 360.59 L444.40 360.48 L445.40 359.78 L446.40 359.52 L454.90 359.48 L459.90 359.20 L464.90 359.48 L473.40 359.49 L474.90 359.39 L476.90 358.82 L477.90 358.71 L480.40 359.37 L481.90 359.49 L489.90 359.48 L494.90 359.20 L499.90 359.48 L507.90 359.51 L508.90 359.69 L510.40 360.40 L511.90 359.69 L512.90 359.51 L519.90 359.51 L524.90 359.70 L529.90 359.51 L538.40 359.50 L538.60 359.50" fill="none" stroke="#ff7f00" stroke-width="2.5" stroke-linejoin="round"/>
<path d="M537.20 429.40 L537.50 431.23 L537.80 432.02 L538.00 432.17 L538.40 395.76 L538.70 382.14 L539.00 374.50 L539.60 367.60 L540.00 365.71 L540.60 364.31 L541.30 363.49 L542.20 362.85 L543.50 362.23 L544.90 361.82 L545.20 400.11 L545.50 416.50 L545.90 424.94 L546.20 427.36 L546.60 428.75 L546.90 429.25 L547.40 429.73 L549.20 430.70 L551.60 431.50 L554.40 432.06 L554.50 430.76 L555.00 389.79 L555.30 378.80 L555.80 370.02 L556.30 366.45 L556.70 365.09 L557.10 364.29 L557.80 363.47 L558.70 362.84 L559.90 362.27 L561.30 361.82 L561.90 412.94 L562.20 422.05 L562.60 426.82 L563.10 428.77 L563.50 429.38 L564.20 429.95 L565.50 430.62 L567.10 431.21 L570.90 432.06 L571.50 389.31 L571.80 378.53 L572.30 369.91 L572.90 365.99 L573.30 364.83 L573.70 364.13 L574.40 363.38 L575.30 362.78 L576.50 362.22 L577.80 361.81 L578.40 413.38 L578.70 422.24 L579.10 426.88 L579.60 428.79 L580.00 429.39 L580.70 429.95 L582.00 430.62 L583.60 431.22 L587.40 432.06 L588.00 388.84 L588.30 378.26 L588.80 369.81 L589.40 365.95 L589.80 364.80 L590.20 364.11 L590.90 363.37 L591.80 362.77 L593.00 362.22 L594.30 361.81 L594.80 408.92 L595.10 420.30 L595.50 426.22 L596.00 428.59 L596.40 429.29 L597.00 429.83 L598.30 430.53 L600.00 431.19 L601.80 431.68 L603.90 432.06 L604.50 388.38 L604.80 378.01 L605.30 369.71 L605.90 365.92 L606.30 364.78 L606.70 364.10 L607.40 363.36 L608.30 362.76 L609.50 362.22 L610.80 361.81 L611.30 409.47 L611.60 420.54 L612.00 426.30 L612.50 428.61 L612.90 429.30 L613.50 429.83 L614.80 430.54 L616.50 431.19 L618.30 431.68 L620.40 432.06 L621.00 387.93 L621.30 377.75 L621.80 369.61 L622.40 365.88 L622.80 364.76 L623.20 364.08 L623.90 363.36 L624.80 362.76 L626.00 362.21 L627.30 361.80 L627.80 410.01 L628.10 420.78 L628.50 426.38 L629.00 428.64 L629.40 429.31 L630.00 429.84 L631.30 430.54 L633.00 431.19 L634.80 431.68 L636.90 432.06 L637.50 387.49 L637.80 377.51 L638.30 369.51 L638.90 365.84 L639.30 364.74 L639.70 364.07 L640.40 363.35 L641.30 362.75 L642.50 362.21 L643.80 361.80 L644.30 410.53 L644.60 421.00 L645.00 426.46 L645.50 428.66 L645.90 429.32 L646.50 429.85 L647.80 430.55 L649.50 431.20 L651.30 431.68 L653.40 432.07 L654.00 387.05 L654.30 377.26 L654.80 369.41 L655.40 365.81 L655.80 364.72 L656.20 364.06 L656.90 363.34 L657.80 362.75 L659.00 362.21 L660.30 361.80 L660.80 411.04 L661.10 421.22 L661.50 426.53 L662.00 428.68 L662.40 429.34 L662.90 429.78 L664.00 430.41 L665.40 431.00 L668.70 431.87" fill="none" stroke="#0000ff" stroke-width="2.5" stroke-linejoin="round"/><path d="M63.60 211.70v3.8M129.45 211.70v3.8M195.30 211.70v3.8M261.15 211.70v3.8M327.00 211.70v3.8M96.53 211.70v1.9M162.38 211.70v1.9M228.22 211.70v1.9M294.07 211.70v1.9" stroke="#000" stroke-width="1.6" fill="none"/><text x="63.60" y="230.0" text-anchor="middle" font-size="14.5">400</text><text x="129.45" y="230.0" text-anchor="middle" font-size="14.5">600</text><text x="195.30" y="230.0" text-anchor="middle" font-size="14.5">800</text><text x="261.15" y="230.0" text-anchor="middle" font-size="14.5">1000</text><text x="327.00" y="230.0" text-anchor="middle" font-size="14.5">1200</text><path d="M63.60 211.70h-3.8M63.60 199.79h-1.9M63.60 192.83h-1.9M63.60 187.88h-1.9M63.60 184.05h-1.9M63.60 180.92h-1.9M63.60 178.27h-1.9M63.60 175.97h-1.9M63.60 173.95h-1.9M63.60 172.14h-3.8M63.60 160.23h-1.9M63.60 153.27h-1.9M63.60 148.32h-1.9M63.60 144.49h-1.9M63.60 141.36h-1.9M63.60 138.71h-1.9M63.60 136.41h-1.9M63.60 134.39h-1.9M63.60 132.58h-3.8M63.60 120.67h-1.9M63.60 113.71h-1.9M63.60 108.76h-1.9M63.60 104.93h-1.9M63.60 101.80h-1.9M63.60 99.15h-1.9M63.60 96.85h-1.9M63.60 94.83h-1.9M63.60 93.02h-3.8M63.60 81.11h-1.9M63.60 74.15h-1.9M63.60 69.20h-1.9M63.60 65.37h-1.9M63.60 62.24h-1.9M63.60 59.59h-1.9M63.60 57.29h-1.9M63.60 55.27h-1.9M63.60 53.46h-3.8M63.60 41.55h-1.9M63.60 34.59h-1.9M63.60 29.64h-1.9M63.60 25.81h-1.9M63.60 22.68h-1.9M63.60 20.03h-1.9M63.60 17.73h-1.9M63.60 15.71h-1.9M63.60 13.90h-3.8" stroke="#000" stroke-width="1.6" fill="none"/><text x="57.00" y="217.10" text-anchor="end" font-size="14.5">10<tspan font-size="10" dy="-5.8">-1</tspan></text><text x="57.00" y="177.54" text-anchor="end" font-size="14.5">10<tspan font-size="10" dy="-5.8">0</tspan></text><text x="57.00" y="137.98" text-anchor="end" font-size="14.5">10<tspan font-size="10" dy="-5.8">1</tspan></text><text x="57.00" y="98.42" text-anchor="end" font-size="14.5">10<tspan font-size="10" dy="-5.8">2</tspan></text><text x="57.00" y="58.86" text-anchor="end" font-size="14.5">10<tspan font-size="10" dy="-5.8">3</tspan></text><text x="57.00" y="19.30" text-anchor="end" font-size="14.5">10<tspan font-size="10" dy="-5.8">4</tspan></text><path d="M405.40 211.70v3.8M471.30 211.70v3.8M537.20 211.70v3.8M603.10 211.70v3.8M669.00 211.70v3.8M438.35 211.70v1.9M504.25 211.70v1.9M570.15 211.70v1.9M636.05 211.70v1.9" stroke="#000" stroke-width="1.6" fill="none"/><text x="405.40" y="230.0" text-anchor="middle" font-size="14.5">400</text><text x="471.30" y="230.0" text-anchor="middle" font-size="14.5">600</text><text x="537.20" y="230.0" text-anchor="middle" font-size="14.5">800</text><text x="603.10" y="230.0" text-anchor="middle" font-size="14.5">1000</text><text x="669.00" y="230.0" text-anchor="middle" font-size="14.5">1200</text><path d="M405.40 211.70h-3.8M405.40 199.79h-1.9M405.40 192.83h-1.9M405.40 187.88h-1.9M405.40 184.05h-1.9M405.40 180.92h-1.9M405.40 178.27h-1.9M405.40 175.97h-1.9M405.40 173.95h-1.9M405.40 172.14h-3.8M405.40 160.23h-1.9M405.40 153.27h-1.9M405.40 148.32h-1.9M405.40 144.49h-1.9M405.40 141.36h-1.9M405.40 138.71h-1.9M405.40 136.41h-1.9M405.40 134.39h-1.9M405.40 132.58h-3.8M405.40 120.67h-1.9M405.40 113.71h-1.9M405.40 108.76h-1.9M405.40 104.93h-1.9M405.40 101.80h-1.9M405.40 99.15h-1.9M405.40 96.85h-1.9M405.40 94.83h-1.9M405.40 93.02h-3.8M405.40 81.11h-1.9M405.40 74.15h-1.9M405.40 69.20h-1.9M405.40 65.37h-1.9M405.40 62.24h-1.9M405.40 59.59h-1.9M405.40 57.29h-1.9M405.40 55.27h-1.9M405.40 53.46h-3.8M405.40 41.55h-1.9M405.40 34.59h-1.9M405.40 29.64h-1.9M405.40 25.81h-1.9M405.40 22.68h-1.9M405.40 20.03h-1.9M405.40 17.73h-1.9M405.40 15.71h-1.9M405.40 13.90h-3.8" stroke="#000" stroke-width="1.6" fill="none"/><text x="398.80" y="217.10" text-anchor="end" font-size="14.5">10<tspan font-size="10" dy="-5.8">-1</tspan></text><text x="398.80" y="177.54" text-anchor="end" font-size="14.5">10<tspan font-size="10" dy="-5.8">0</tspan></text><text x="398.80" y="137.98" text-anchor="end" font-size="14.5">10<tspan font-size="10" dy="-5.8">1</tspan></text><text x="398.80" y="98.42" text-anchor="end" font-size="14.5">10<tspan font-size="10" dy="-5.8">2</tspan></text><text x="398.80" y="58.86" text-anchor="end" font-size="14.5">10<tspan font-size="10" dy="-5.8">3</tspan></text><text x="398.80" y="19.30" text-anchor="end" font-size="14.5">10<tspan font-size="10" dy="-5.8">4</tspan></text><path d="M63.40 467.00v3.8M129.25 467.00v3.8M195.10 467.00v3.8M260.95 467.00v3.8M326.80 467.00v3.8M96.33 467.00v1.9M162.18 467.00v1.9M228.03 467.00v1.9M293.88 467.00v1.9" stroke="#000" stroke-width="1.6" fill="none"/><text x="63.40" y="485.6" text-anchor="middle" font-size="14.5">-0.2</text><text x="129.25" y="485.6" text-anchor="middle" font-size="14.5">-0.1</text><text x="195.10" y="485.6" text-anchor="middle" font-size="14.5">0.0</text><text x="260.95" y="485.6" text-anchor="middle" font-size="14.5">0.1</text><text x="326.80" y="485.6" text-anchor="middle" font-size="14.5">0.2</text><path d="M63.40 467.00h-3.8M63.40 434.05h-3.8M63.40 401.10h-3.8M63.40 368.15h-3.8M63.40 335.20h-3.8M63.40 302.25h-3.8M63.40 269.30h-3.8M63.40 450.52h-1.9M63.40 417.57h-1.9M63.40 384.62h-1.9M63.40 351.68h-1.9M63.40 318.73h-1.9M63.40 285.77h-1.9" stroke="#000" stroke-width="1.6" fill="none"/><text x="56.60" y="471.70" text-anchor="end" font-size="14.5">-15</text><text x="56.60" y="438.75" text-anchor="end" font-size="14.5">-10</text><text x="56.60" y="405.80" text-anchor="end" font-size="14.5">-5</text><text x="56.60" y="372.85" text-anchor="end" font-size="14.5">0</text><text x="56.60" y="339.90" text-anchor="end" font-size="14.5">5</text><text x="56.60" y="306.95" text-anchor="end" font-size="14.5">10</text><text x="56.60" y="274.00" text-anchor="end" font-size="14.5">15</text><path d="M405.40 467.00v3.8M471.30 467.00v3.8M537.20 467.00v3.8M603.10 467.00v3.8M669.00 467.00v3.8M438.35 467.00v1.9M504.25 467.00v1.9M570.15 467.00v1.9M636.05 467.00v1.9" stroke="#000" stroke-width="1.6" fill="none"/><text x="405.40" y="485.6" text-anchor="middle" font-size="14.5">-0.2</text><text x="471.30" y="485.6" text-anchor="middle" font-size="14.5">-0.1</text><text x="537.20" y="485.6" text-anchor="middle" font-size="14.5">0.0</text><text x="603.10" y="485.6" text-anchor="middle" font-size="14.5">0.1</text><text x="669.00" y="485.6" text-anchor="middle" font-size="14.5">0.2</text><path d="M405.40 467.00h-3.8M405.40 434.05h-3.8M405.40 401.10h-3.8M405.40 368.15h-3.8M405.40 335.20h-3.8M405.40 302.25h-3.8M405.40 269.30h-3.8M405.40 450.52h-1.9M405.40 417.57h-1.9M405.40 384.62h-1.9M405.40 351.68h-1.9M405.40 318.73h-1.9M405.40 285.77h-1.9" stroke="#000" stroke-width="1.6" fill="none"/><text x="398.60" y="471.70" text-anchor="end" font-size="14.5">-15</text><text x="398.60" y="438.75" text-anchor="end" font-size="14.5">-10</text><text x="398.60" y="405.80" text-anchor="end" font-size="14.5">-5</text><text x="398.60" y="372.85" text-anchor="end" font-size="14.5">0</text><text x="398.60" y="339.90" text-anchor="end" font-size="14.5">5</text><text x="398.60" y="306.95" text-anchor="end" font-size="14.5">10</text><text x="398.60" y="274.00" text-anchor="end" font-size="14.5">15</text><text x="195.3" y="247.2" text-anchor="middle" font-size="16.7">Wavelength (nm)</text><text x="537.2" y="247.2" text-anchor="middle" font-size="16.7">Wavelength (nm)</text><text x="195.1" y="501.6" text-anchor="middle" font-size="16.7">Time (s)</text><text x="537.2" y="501.6" text-anchor="middle" font-size="16.7">Time (s)</text><text transform="translate(28.0 112.3) rotate(-90)" text-anchor="middle" font-size="16.7">SRR</text><text transform="translate(370.0 112.3) rotate(-90)" text-anchor="middle" font-size="16.7">SRR</text><text transform="translate(31.7 362.0) rotate(-90)" text-anchor="middle" font-size="16.7">Response (arb.units)</text><text transform="translate(373.7 362.0) rotate(-90)" text-anchor="middle" font-size="16.7">Response (arb.units)</text><text x="-1.1" y="16.0" font-size="22.4">(a)</text><text x="344.2" y="16.0" font-size="22.4">(b)</text><text x="-1.1" y="271.4" font-size="22.4">(c)</text><text x="344.2" y="271.4" font-size="22.4">(d)</text><text x="73.5" y="454.6" font-size="14.5">830 nm</text><text x="416.5" y="450.8" font-size="14.6">1100 nm</text><rect x="268.2" y="28.5" width="4.35" height="4.35" fill="none" stroke="#000" stroke-width="1.45" stroke-linejoin="round"/><text x="289.8" y="34.9" font-size="13.4">1.0 V</text><circle cx="612.1" cy="30.6" r="2.0" fill="none" stroke="#f00" stroke-width="1.78"/><text x="627.4" y="34.9" font-size="13.4">-1.0 V</text><path d="M250.1 284.6h31" stroke="#ff7f00" stroke-width="2.6"/><path d="M250.1 300.6h31" stroke="#0000ff" stroke-width="2.6"/><text x="287.9" y="289.5" font-size="13">1.0 V</text><text x="283.8" y="305.4" font-size="13">-1.0 V</text><path d="M592.3 284.6h31" stroke="#ff7f00" stroke-width="2.6"/><path d="M592.3 300.6h31" stroke="#0000ff" stroke-width="2.6"/><text x="630.1" y="289.5" font-size="13">1.0 V</text><text x="626.0" y="305.4" font-size="13">-1.0 V</text></svg></body></html>
